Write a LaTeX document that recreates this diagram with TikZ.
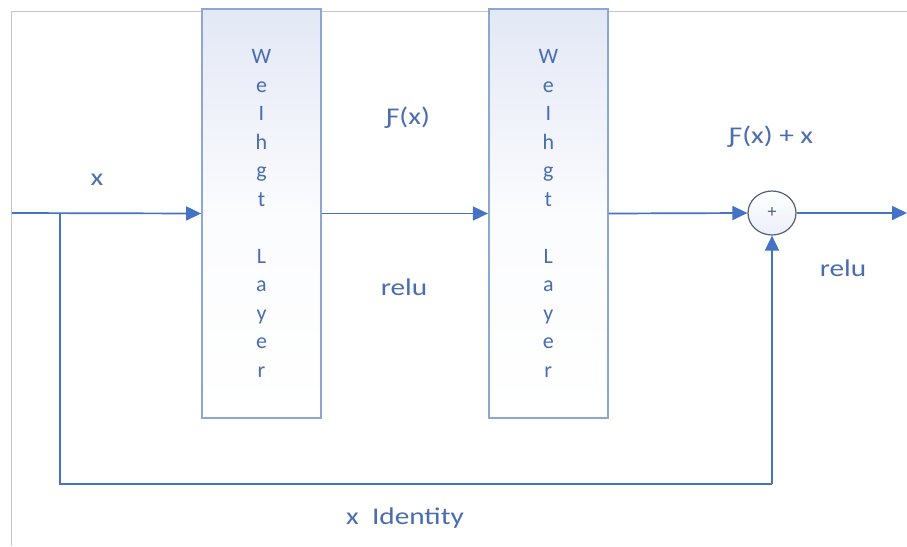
\documentclass[tikz,border=0pt]{standalone}
\usepackage{fontspec}
\setmainfont{Carlito}
\usetikzlibrary{positioning, arrows.meta, shapes.geometric}

\definecolor{lineblue}{HTML}{4472C4}
\definecolor{textblue}{HTML}{4A6DB0}
\definecolor{boxblue}{HTML}{8EA6D2}
\definecolor{boxtop}{HTML}{E3E8F6}
\definecolor{sumgray}{HTML}{4F5F7C}

\begin{document}
\begin{tikzpicture}[x=1pt, y=-1pt,
        layer/.style = {draw=boxblue, line width=1.8pt, top color=boxtop, bottom color=white, middle color=white!85!boxtop,
            minimum width=119pt, minimum height=409pt, inner sep=0pt, align=center, text=textblue,
            font=\fontsize{22}{28.5}\selectfont},
        adder/.style = {draw=sumgray, ellipse, line width=1.2pt, top color=white, bottom color=boxtop!70,
            minimum width=48pt, minimum height=44pt, inner sep=0pt, font=\fontsize{18}{18}\selectfont, text=sumgray},
        lbl/.style = {text=textblue, font=\fontsize{24}{24}\selectfont, xscale=1.22, transform shape},
        arrow/.style = {draw=lineblue, line width=1.7pt, -{Triangle[length=15pt, width=14pt]}},
        wire/.style = {draw=lineblue, line width=1.7pt}
    ]

        % page and grey frame
        \useasboundingbox[fill=white] (0,0) rectangle (907,546);
        \draw[gray!45, line width=1pt] (11,546) -- (11,11) -- (907,11);

        \node[layer] (wl1) at (261.5,213.5) {W\\e\\I\\h\\g\\t\\[28.5pt]L\\a\\y\\e\\r};
        \node[layer, right=166pt of wl1] (wl2) {W\\e\\I\\h\\g\\t\\[28.5pt]L\\a\\y\\e\\r};
        \node[adder] (sum) at (772,213) {+};

        \coordinate (in) at (12,213);
        \coordinate (split) at (60,213);
        \coordinate (out) at (907,213);
        \coordinate (low) at (60,484);
        \coordinate (lowr) at (sum |- low);

        \draw[arrow] (in) -- (wl1.west);
        \draw[arrow] (wl1.east) -- (wl2.west);
        \draw[arrow] (wl2.east) -- (sum.west);
        \draw[arrow] (sum.east) -- (out);
        \draw[wire] (split) -- (low) -- (lowr);
        \draw[arrow] (lowr) -- (sum.south);

        % labels
        \node[lbl] (xin) at (97,180) {x};
        \node[lbl] (fx) at (408,118) {Ƒ(x)};
        \node[lbl] (relu1) at (404,287) {relu};
        \node[lbl] (fxx) at (771,137) {Ƒ(x) + x};
        \node[lbl] (relu2) at (843,268) {relu};
        \node[lbl] (ident) at (405,518) {x\ \ Identity};

    \end{tikzpicture}
\end{document}
